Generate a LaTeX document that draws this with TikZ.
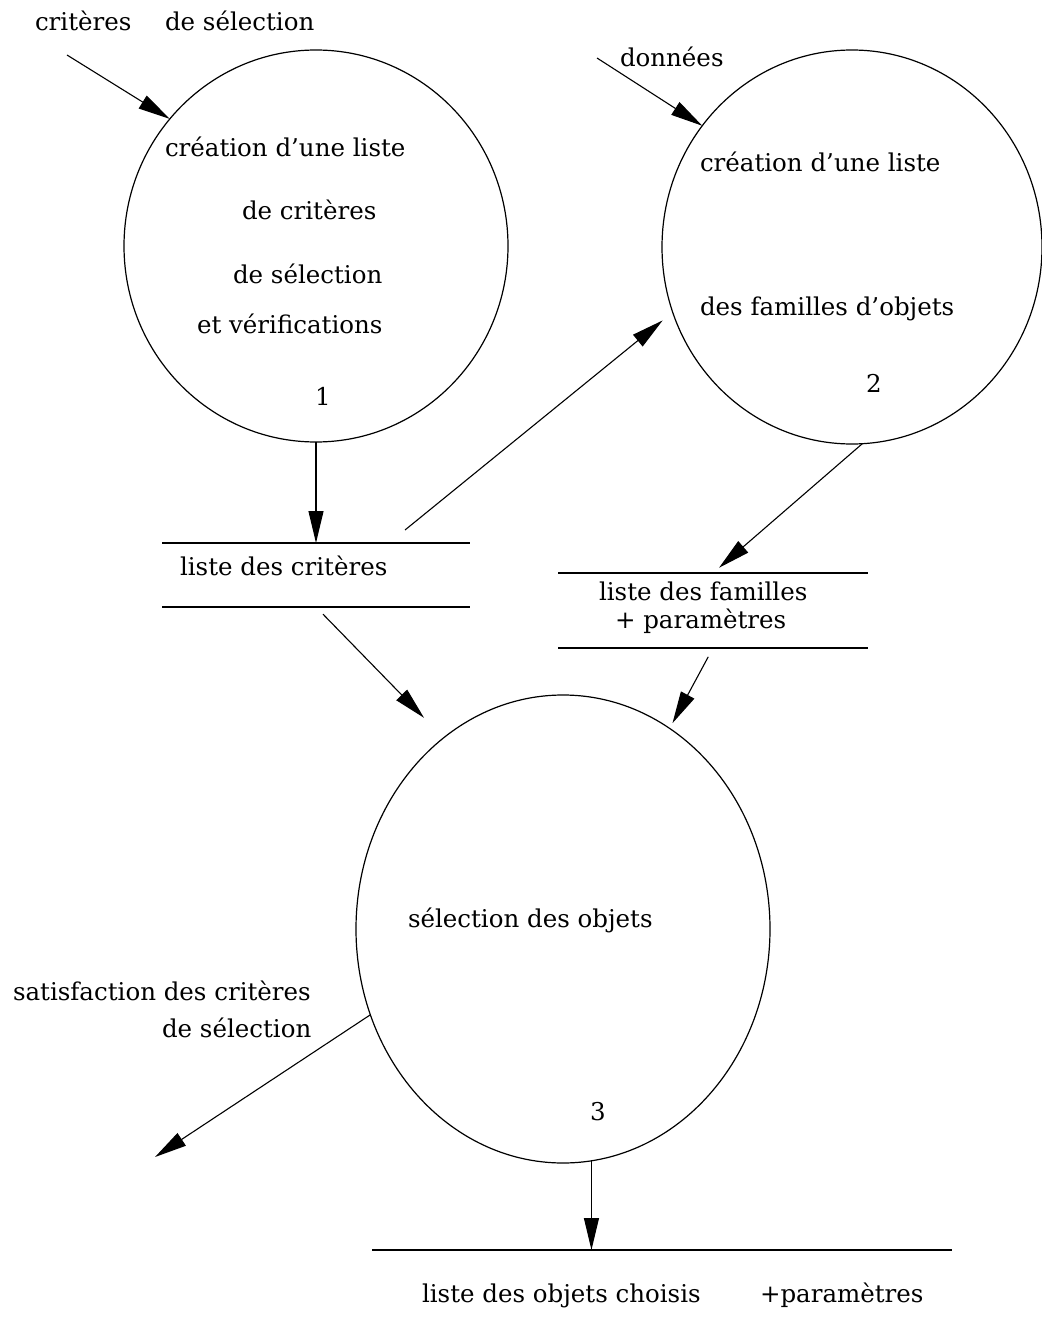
\documentclass[tikz,border=0pt]{standalone}
\usepackage{fontspec}
\setmainfont{DejaVu Serif}
\usetikzlibrary{shapes.geometric,arrows.meta,calc}
\begin{document}
\begin{tikzpicture}[x=1pt,y=-1pt,
  lbl/.style={anchor=base west, inner sep=0pt, outer sep=0pt, font=\fontsize{24.5}{30}\selectfont},
  proc/.style={draw, ellipse, line width=1.2pt, inner sep=0pt, outer sep=0pt},
  store/.style={rectangle, inner sep=0pt, outer sep=0pt},
  sline/.style={line width=1.2pt},
  flow/.style={line width=1.1pt, -{Triangle[length=32pt,width=15pt]}}]
\useasboundingbox (0,0) rectangle (1041,1324);
% processes
\node[proc, minimum width=384pt, minimum height=392pt] (e1) at (316,246) {};
\node[proc, minimum width=380pt, minimum height=394pt] (e2) at (852,247) {};
\node[proc, minimum width=414pt, minimum height=468pt] (e3) at (563,929) {};
% stores
\node[store, minimum width=308pt, minimum height=64pt] (s1) at (316,575) {};
\node[store, minimum width=310pt, minimum height=75pt] (s2) at (713,610.5) {};
\node[store, minimum width=580pt, minimum height=60pt] (s3) at (662,1280) {};
\draw[sline] (s1.north west) -- (s1.north east) (s1.south west) -- (s1.south east);
\draw[sline] (s2.north west) -- (s2.north east) (s2.south west) -- (s2.south east);
\draw[sline] (s3.north west) -- (s3.north east);
% texts
\node[lbl] (tcrit) at (35,31) {critères};
\node[lbl] (tdesel) at (165,31) {de sélection};
\node[lbl] (tdon) at (620,67) {données};
\node[lbl] (e1a) at (165,157) {création d'une liste};
\node[lbl] (e1b) at (242,220) {de critères};
\node[lbl] (e1c) at (233,283) {de sélection};
\node[lbl] (e1d) at (197,333) {et vérifications};
\node[lbl] (e1n) at (315,405) {1};
\node[lbl] (e2a) at (700,172) {création d'une liste};
\node[lbl] (e2b) at (700,315) {des familles d'objets};
\node[lbl] (e2n) at (866,392) {2};
\node[lbl] (s1t) at (180,575) {liste des critères};
\node[lbl] (s2a) at (599,600) {liste des familles};
\node[lbl] (s2b) at (615,628) {+ paramètres};
\node[lbl] (e3a) at (408,927) {sélection des objets};
\node[lbl] (e3n) at (590,1120) {3};
\node[lbl] (sata) at (13,1000) {satisfaction des critères};
\node[lbl] (satb) at (162,1037) {de sélection};
\node[lbl] (s3a) at (422,1302) {liste des objets choisis};
\node[lbl] (s3b) at (760,1302) {+paramètres};
% free ends
\coordinate (c1) at (67,55);
\coordinate (c2) at (597,58);
\coordinate (c4) at (405,530);
\coordinate (c8) at (155,1157);
% flows
\draw[flow] (c1) -- (e1.139);
\draw[flow] (c2) -- (e2.141);
\draw[flow] (e1.south) -- (s1.north);
\draw[flow, shorten >=13pt] (c4) -- (e2.200.6);
\draw[flow, shorten >=8pt] (e2.273.7) -- (s2.north);
\draw[flow, shorten <=10pt, shorten >=28pt] (s1.south) -- (e3.122.6);
\draw[flow, shorten <=10pt, shorten >=6pt] (s2.south) -- (e3.62.8);
\draw[flow] (e3.204.1) -- (c8);
\draw[flow] (e3.277.8) -- (e3.277.8 |- s3.north);
\end{tikzpicture}
\end{document}
